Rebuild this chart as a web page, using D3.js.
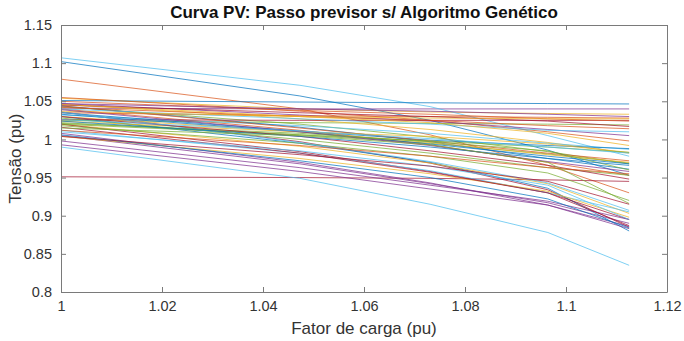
<!DOCTYPE html>
<html>
<head>
<meta charset="utf-8">
<script src="https://cdn.jsdelivr.net/npm/d3@7"></script>
<style>
  body { margin: 0; background: #fff; }
  svg { display: block; font-family: "Liberation Sans", Arial, sans-serif; }
</style>
</head>
<body>
<div id="chart"></div>
<script>
// fator de carga em cada passo
const loadFactor = [1, 1.0473, 1.0731, 1.0964, 1.1125];

// tensões por barra (pu)
const busVoltages = [
  [1.102, 1.057, 1.025, 0.986, 0.953],
  [1.079, 1.040, 1.006, 0.966, 0.930],
  [1.054, 1.040, 1.036, 1.034, 1.033],
  [1.041, 1.040, 1.040, 1.040, 1.040],
  [1.025, 1.022, 1.021, 1.020, 1.019],
  [1.107, 1.071, 1.043, 1.005, 0.978],
  [0.951, 0.950, 0.949, 0.947, 0.945],

  [1.051, 1.049, 1.048, 1.047, 1.0465],
  [1.055, 1.037, 1.025, 1.010, 0.998],
  [1.046, 1.027, 1.013, 0.996, 0.982],
  [1.047, 1.032, 1.024, 1.013, 1.005],
  [1.022, 1.006, 0.995, 0.981, 0.969],
  [0.990, 0.949, 0.915, 0.878, 0.835],
  [1.036, 0.997, 0.969, 0.934, 0.885],

  [1.030, 0.995, 0.970, 0.936, 0.880],
  [1.040, 1.012, 0.993, 0.970, 0.953],
  [1.020, 0.991, 0.969, 0.942, 0.903],
  [1.008, 0.970, 0.943, 0.914, 0.886],
  [1.043, 1.020, 1.003, 0.984, 0.968],
  [1.032, 1.018, 1.008, 0.995, 0.987],
  [1.020, 0.984, 0.958, 0.930, 0.895],

  [1.044, 1.016, 0.997, 0.975, 0.961],
  [1.035, 1.031, 1.030, 1.029, 1.028],
  [1.030, 1.010, 0.996, 0.980, 0.970],
  [1.005, 0.968, 0.942, 0.917, 0.890],
  [1.018, 0.995, 0.978, 0.956, 0.920],
  [1.012, 0.982, 0.959, 0.930, 0.905],
  [1.026, 1.025, 1.025, 1.025, 1.025],

  [1.035, 1.011, 0.999, 0.992, 0.988],
  [1.044, 1.015, 0.998, 0.982, 0.972],
  [1.004, 0.975, 0.955, 0.932, 0.898],
  [0.998, 0.963, 0.940, 0.919, 0.895],
  [1.028, 1.000, 0.982, 0.963, 0.953],
  [1.040, 1.027, 1.020, 1.012, 1.010],
  [1.016, 0.982, 0.957, 0.930, 0.887],

  [1.033, 1.010, 0.994, 0.978, 0.968],
  [1.050, 1.038, 1.033, 1.027, 1.024],
  [1.024, 1.010, 1.004, 0.994, 0.983],
  [0.993, 0.958, 0.935, 0.914, 0.883],
  [1.020, 1.006, 0.998, 0.990, 0.983],
  [1.036, 0.996, 0.971, 0.943, 0.907],
  [1.045, 1.035, 1.030, 1.024, 1.017],

  [1.006, 0.972, 0.950, 0.922, 0.884],
  [1.042, 1.030, 1.025, 1.018, 1.014],
  [1.037, 1.030, 1.028, 1.027, 1.027],
  [1.039, 1.010, 0.992, 0.971, 0.958],
  [1.021, 1.008, 0.997, 0.985, 0.960],
  [1.010, 0.985, 0.965, 0.940, 0.895],
  [1.030, 1.004, 0.985, 0.966, 0.948],

  [1.024, 1.004, 0.990, 0.975, 0.966],
  [1.012, 0.992, 0.978, 0.963, 0.955],
  [1.046, 1.030, 1.022, 1.008, 0.992],
  [1.047, 1.040, 1.037, 1.033, 1.030],
  [1.015, 1.005, 0.993, 0.970, 0.916],
  [1.026, 1.011, 1.001, 0.990, 0.982],
  [1.004, 0.980, 0.965, 0.945, 0.915]
];

const xTicks = [1, 1.02, 1.04, 1.06, 1.08, 1.1, 1.12];
const yTicks = [0.8, 0.85, 0.9, 0.95, 1, 1.05, 1.1, 1.15];

// cores padrão do MATLAB
const lineColors = ["#0072BD", "#D95319", "#EDB120", "#7E2F8E", "#77AC30", "#4DBEEE", "#A2142F"];

const W = 684, H = 341;
const margin = { top: 25, right: 17, bottom: 49, left: 61 };
const width = W - margin.left - margin.right;
const height = H - margin.top - margin.bottom;

const svg = d3.select("#chart").append("svg")
  .attr("width", W)
  .attr("height", H);

const g = svg.append("g")
  .attr("transform", "translate(" + margin.left + "," + margin.top + ")");

const x = d3.scaleLinear().domain([1, 1.12]).range([0, width]);
const y = d3.scaleLinear().domain([0.8, 1.15]).range([height, 0]);
const color = d3.scaleOrdinal().domain(d3.range(lineColors.length)).range(lineColors);

const line = d3.line()
  .x((d, i) => x(loadFactor[i]))
  .y(d => y(d));

g.selectAll("path.bus")
  .data(busVoltages)
  .enter()
  .append("path")
  .attr("class", "bus")
  .attr("d", line)
  .attr("fill", "none")
  .attr("stroke", (d, i) => color(i % lineColors.length))
  .attr("stroke-width", 0.9)
  .attr("stroke-opacity", 0.8);

// eixos com ticks para dentro (estilo box on)
const axisColor = "#7a7a7a";
const fmt = d => String(+d.toFixed(2));

const xAxis = g.append("g")
  .attr("transform", "translate(0," + height + ")")
  .call(d3.axisBottom(x).tickValues(xTicks).tickFormat(fmt).tickSizeInner(-5).tickSizeOuter(0).tickPadding(9));
const xAxisTop = g.append("g")
  .call(d3.axisTop(x).tickValues(xTicks).tickFormat("").tickSizeInner(-5).tickSizeOuter(0));
const yAxis = g.append("g")
  .call(d3.axisLeft(y).tickValues(yTicks).tickFormat(fmt).tickSizeInner(-5).tickSizeOuter(0).tickPadding(9));
const yAxisRight = g.append("g")
  .attr("transform", "translate(" + width + ",0)")
  .call(d3.axisRight(y).tickValues(yTicks).tickFormat("").tickSizeInner(-5).tickSizeOuter(0));

[xAxis, xAxisTop, yAxis, yAxisRight].forEach(a => {
  a.select(".domain").attr("stroke", axisColor);
  a.selectAll(".tick line").attr("stroke", axisColor);
  a.selectAll("text")
    .attr("fill", "#333")
    .style("font-size", "14.5px")
    .style("font-family", "'Liberation Sans', Arial, sans-serif");
});

svg.append("text")
  .attr("x", margin.left + width / 2)
  .attr("y", 18)
  .attr("text-anchor", "middle")
  .style("font-size", "17px")
  .style("font-weight", "bold")
  .attr("fill", "#111")
  .text("Curva PV: Passo previsor s/ Algoritmo Genético");

svg.append("text")
  .attr("x", margin.left + width / 2)
  .attr("y", 334)
  .attr("text-anchor", "middle")
  .style("font-size", "17px")
  .attr("fill", "#333")
  .text("Fator de carga (pu)");

svg.append("text")
  .attr("transform", "translate(21," + (margin.top + height / 2) + ") rotate(-90)")
  .attr("text-anchor", "middle")
  .style("font-size", "17px")
  .attr("fill", "#333")
  .text("Tensão (pu)");
</script>
</body>
</html>
